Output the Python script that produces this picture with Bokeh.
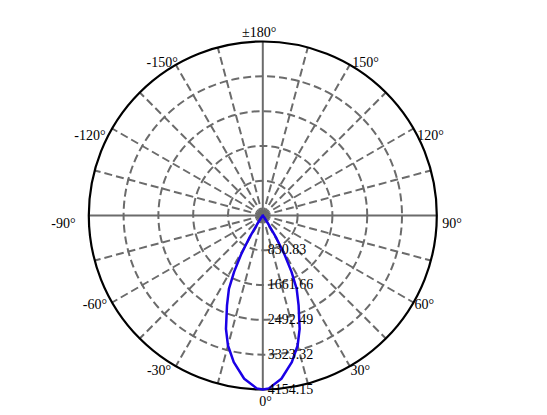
import numpy as np
from bokeh.plotting import figure
from bokeh.models import Range1d, ColumnDataSource
from bokeh.core.properties import value
from bokeh.embed import file_html
from bokeh.resources import INLINE

# ---------------- data ----------------
RING_VALUES = [830.83, 1661.66, 2492.49, 3323.32, 4154.15]
RING_LABELS = ["830.83", "1661.66", "2492.49", "3323.32", "4154.15"]

CURVE_ANGLES = [-180, -150, -120, -90, -60, -50, -40, -36, -33, -31, -29, -27,
                -24.8, -21.7, -18, -15, -11.2, -6.5, -2, 0,
                2, 6.5, 11.2, 15, 18, 21.7, 24.8, 27, 29, 31, 33, 36, 40,
                50, 60, 90, 120, 150, 180]
CURVE_VALUES = [5, 5, 5, 5, 5, 8, 20, 60, 250, 640, 1080, 1510,
                1928, 2312, 2846, 3213, 3570, 3922, 4130, 4154,
                4130, 3922, 3570, 3213, 2846, 2312, 1928, 1510, 1080, 640, 250, 60, 20,
                8, 5, 5, 5, 5, 5]

ANGLE_TICKS = [0, 30, 60, 90, 120, 150, 180, -150, -120, -90, -60, -30]
ANGLE_LABELS = ["0°", "30°", "60°", "90°", "120°", "150°", "±180°",
                "-150°", "-120°", "-90°", "-60°", "-30°"]

# ---------------- layout ----------------
W, H = 547, 415
CX, CY = 262.3, 215.0                 # centre in figure pixels (from top-left)
RPX = 174.0                           # outer radius in pixels
RMAX = RING_VALUES[-1]
k = RMAX / RPX                        # data units per pixel

p = figure(width=W, height=H, output_backend="svg", toolbar_location=None,
           x_range=Range1d(-CX * k, (W - CX) * k),
           y_range=Range1d(-(H - CY) * k, CY * k),
           x_axis_location=None, y_axis_location=None,
           min_border=0, tools="")
p.grid.visible = False
p.outline_line_color = None
p.background_fill_color = "white"
p.border_fill_color = "white"

GRID = "#6b6b6b"

def pol(r, deg):
    t = np.radians(deg)
    return r * np.sin(t), -r * np.cos(t)

# dashed spokes every 15 deg (except axes)
xs, ys = [], []
for a in range(0, 360, 15):
    if a % 90 == 0:
        continue
    x1, y1 = pol(RMAX, a)
    xs.append([0, x1]); ys.append([0, y1])
p.multi_line(xs, ys, line_color=GRID, line_width=2, line_dash="8 4")

# dashed rings
p.circle(x=[0] * 4, y=[0] * 4, radius=RING_VALUES[:-1], fill_color=None,
         line_color=GRID, line_width=2, line_dash="8 4")

# solid axes
ax_x, ax_y = [], []
for a in (0, 90):
    x1, y1 = pol(RMAX, a)
    x2, y2 = pol(RMAX, a + 180)
    ax_x.append([x1, x2]); ax_y.append([y1, y2])
p.multi_line(ax_x, ax_y, line_color=GRID, line_width=2)
p.scatter(x=[0], y=[0], size=9, fill_color=GRID, line_color=None)

# outer circle
p.circle(x=[0], y=[0], radius=[RMAX], fill_color=None, line_color="black", line_width=2.2)

# curve
cx, cy = pol(np.array(CURVE_VALUES, float), np.array(CURVE_ANGLES, float))
p.line(cx, cy, line_color="#1a00e6", line_width=2.5)

FONT = value("Liberation Serif")
FS = "14px"

# ring labels
rl_y = [-v for v in RING_VALUES]
p.text(x=[0] * 5, y=rl_y, text=RING_LABELS, text_font=FONT, text_font_size=FS,
       text_color="black", text_align="left", text_baseline="middle",
       x_offset=5, y_offset=-1)

# angle labels
OFFS = {0: (2.7, 11.7), 30: (0.7, 4.3), 60: (1, 2), 90: (5.4, 8), 120: (3.7, 7),
        150: (2.4, -2.6), 180: (-3.6, -9.3), -30: (-4.6, 4.3), -60: (-5, 2),
        -90: (-13.3, 8), -120: (-6.6, 7), -150: (2, -2.6)}
groups = {"left": [], "right": [], "center": []}
for a, lab in zip(ANGLE_TICKS, ANGLE_LABELS):
    if a in (0, 180):
        g = "center"
    elif a > 0:
        g = "left"
    else:
        g = "right"
    groups[g].append((a, lab))
for align, items in groups.items():
    if not items:
        continue
    lx, ly, lt, ox, oy = [], [], [], [], []
    for a, lab in items:
        x1, y1 = pol(RMAX, a)
        lx.append(x1); ly.append(y1); lt.append(lab)
        ox.append(OFFS[a][0]); oy.append(OFFS[a][1])
    src = ColumnDataSource(dict(x=lx, y=ly, t=lt, ox=ox, oy=oy))
    p.text(x="x", y="y", text="t", x_offset="ox", y_offset="oy", source=src,
           text_font=FONT, text_font_size=FS, text_color="black",
           text_align=align, text_baseline="middle")

open("out.html", "w").write(file_html(p, INLINE))
